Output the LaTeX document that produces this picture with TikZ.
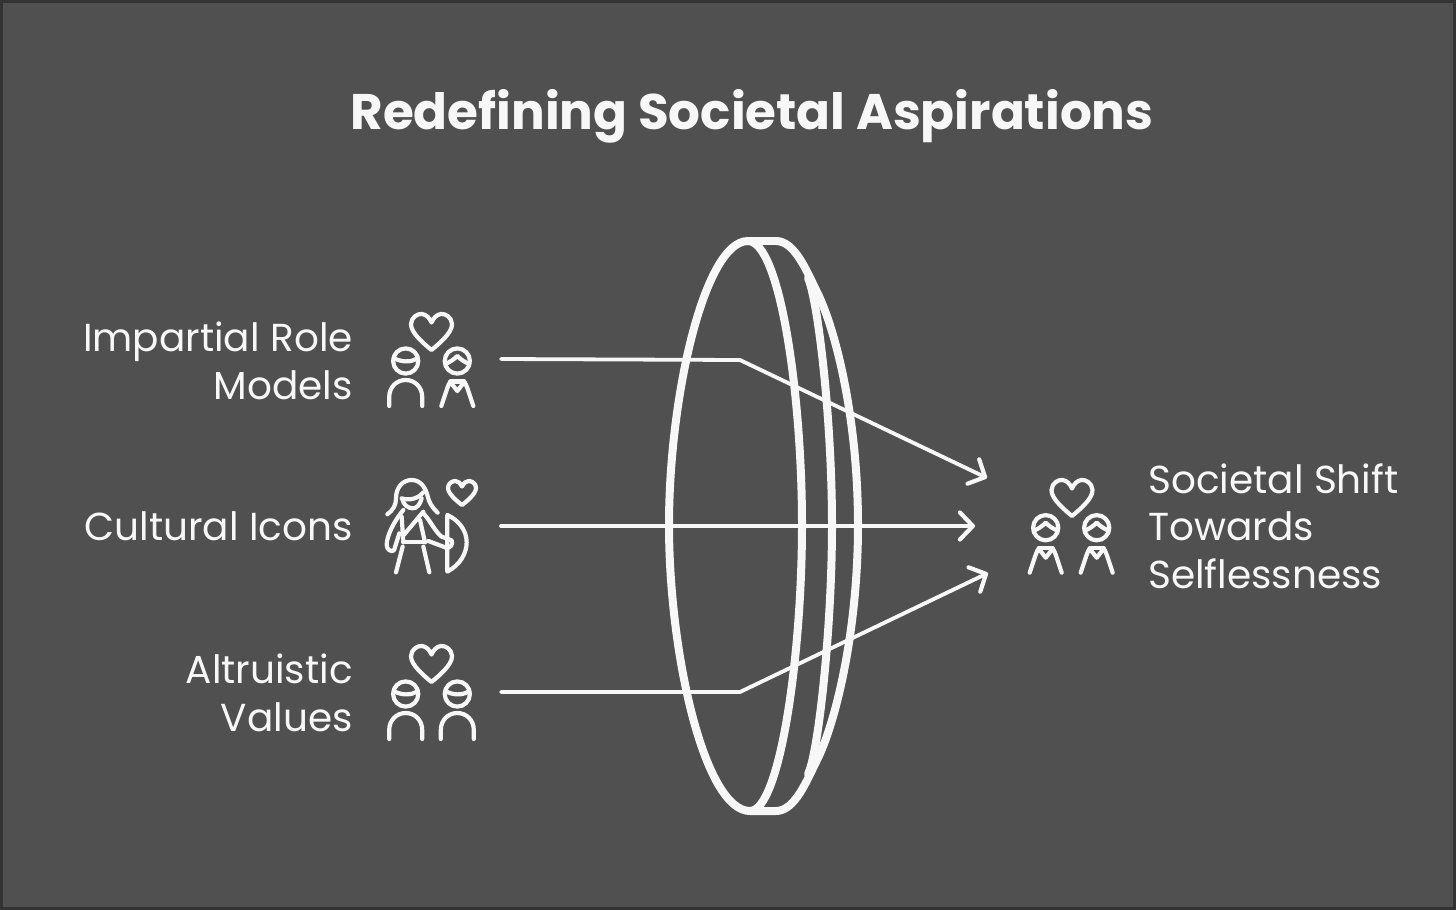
\documentclass[tikz,border=0pt]{standalone}
\usepackage{fontspec}
\setmainfont{Poppins}
\usetikzlibrary{arrows.meta}
\definecolor{bgc}{HTML}{505050}
\definecolor{framec}{HTML}{333333}
\definecolor{inkc}{HTML}{F7F7F7}
\tikzset{
  x=1pt,y=-1pt,
  ico/.style={draw=inkc,line width=4.2pt,line cap=round,line join=round},
  lensline/.style={draw=inkc,line width=8pt,line cap=round,line join=round},
  conn/.style={draw=inkc,line width=3.8pt,line cap=round,line join=round},
  arr/.style={conn,-{Straight Barb[length=13pt,width=27pt,round,line width=4.2pt]}},
  lab/.style={text=inkc,font=\fontsize{39}{47.5}\selectfont,inner sep=0pt},
  heartico/.pic={
    \draw[ico] (0,18) .. controls (-6,13) and (-21,1) .. (-20.5,-8)
      .. controls (-20,-15) and (-14,-18.5) .. (-9.5,-18)
      .. controls (-5,-17.5) and (-2,-14) .. (0,-9.5)
      .. controls (2,-14) and (5,-17.5) .. (9.5,-18)
      .. controls (14,-18.5) and (20,-15) .. (20.5,-8)
      .. controls (21,1) and (6,13) .. (0,18) -- cycle;
  },
  smallheart/.pic={
    \draw[ico] (0,12) .. controls (-4,9) and (-14,1) .. (-14,-5)
      .. controls (-14,-10) and (-9.5,-12) .. (-6.5,-12)
      .. controls (-3.5,-12) and (-1.5,-9.5) .. (0,-6.5)
      .. controls (1.5,-9.5) and (3.5,-12) .. (6.5,-12)
      .. controls (9.5,-12) and (14,-10) .. (14,-5)
      .. controls (14,1) and (4,9) .. (0,12) -- cycle;
  },
  personA/.pic={
    \draw[ico] (0,0) circle[radius=12.6];
    \draw[ico] (-12,-3) .. controls (-5,1) and (5,2) .. (12,-3);
    \draw[ico] (-16.5,45) -- (-16.5,36) .. controls (-16.5,26) and (-9,19) .. (0,19)
      .. controls (9,19) and (16.5,26) .. (16.5,36) -- (16.5,45);
  },
  personB/.pic={
    \draw[ico] (0,0) circle[radius=12.6];
    \draw[ico] (-12,3) .. controls (-7,1) and (-3,-2) .. (0,-5)
      .. controls (3,-2) and (7,1) .. (12,3);
    \draw[ico] (-16,45) -- (-10,27) .. controls (-9,24) and (-8,22) .. (-7,21)
      -- (0,30) -- (7,21) .. controls (8,22) and (9,24) .. (10,27) -- (16,45);
    \draw[ico] (-7,20.5) -- (7,20.5);
  },
}
\begin{document}
\begin{tikzpicture}
\useasboundingbox (0,0) rectangle (1456,910);
\fill[framec] (0,0) rectangle (1456,910);
\fill[bgc] (3,3) rectangle (1453,907);

\node[lab,font=\fontsize{50}{55}\selectfont\bfseries,anchor=base] (title) at (752,129) {Redefining Societal Aspirations};

\node[lab,align=right,anchor=east] (impartial) at (353,361) {Impartial Role\\Models};
\node[lab,anchor=east] (cultural) at (353,526) {Cultural Icons};
\node[lab,align=right,anchor=east] (altruistic) at (353,693) {Altruistic\\Values};
\node[lab,align=left,anchor=west] (shift) at (1148,526) {Societal Shift\\Towards\\Selflessness};

% lens
\draw[lensline] (776,241) -- (748,241);
\draw[lensline] (748,241) .. controls (705,241) and (669,395) .. (669,525)
  .. controls (669,655) and (705,811) .. (750,811) -- (776,811);
\draw[lensline] (748,241) .. controls (780,241) and (802,395) .. (802,525)
  .. controls (802,655) and (780,811) .. (750,811);
\draw[lensline] (776,241) .. controls (795,241) and (807,272) .. (817,292)
  .. controls (836,330) and (858,420) .. (858,525)
  .. controls (858,630) and (836,722) .. (817,760)
  .. controls (807,780) and (795,811) .. (776,811);
\draw[lensline] (808,278) .. controls (818,300) and (832,420) .. (832,525)
  .. controls (832,630) and (818,755) .. (808,774);

% connectors
\coordinate (s1) at (501,359);
\coordinate (k1) at (740,360);
\coordinate (e1) at (987,478);
\coordinate (s2) at (501,526);
\coordinate (e2) at (975,526);
\coordinate (s3) at (501,692);
\coordinate (k3) at (740,692);
\coordinate (e3) at (988,573);
\draw[arr] (s1) -- (k1) -- (e1);
\draw[arr] (s2) -- (e2);
\draw[arr] (s3) -- (k3) -- (e3);

% icons
\pic at (431.5,332) {heartico};
\pic at (405.7,361) {personA};
\pic at (457.3,361) {personB};

\pic at (431.5,664) {heartico};
\pic at (405.7,694) {personA};
\pic at (457.3,694) {personA};

\pic at (1072,498) {heartico};
\pic at (1045.7,527.7) {personB};
\pic at (1096.7,527.7) {personB};

\pic at (462,493) {smallheart};
\begin{scope}[shift={(370,465)},x=0.3333pt,y=-0.3333pt]
  \draw[ico] (52,148) .. controls (70,135) and (78,120) .. (78,100)
    .. controls (78,65) and (100,45) .. (125,45)
    .. controls (150,45) and (165,65) .. (172,90)
    .. controls (178,115) and (185,125) .. (203,143);
  \draw[ico] (95,100) .. controls (120,108) and (145,100) .. (160,82);
  \draw[ico] (97,102) .. controls (100,120) and (115,130) .. (128,130)
    .. controls (140,130) and (150,120) .. (155,100);
  \draw[ico] (100,135) .. controls (75,165) and (50,210) .. (50,240)
    .. controls (50,255) and (65,262) .. (72,256) -- (88,205);
  \draw[ico] (95,155) -- (100,232) (160,140) -- (103,208) (150,165) -- (165,232);
  \draw[ico] (100,232) -- (165,232);
  \draw[ico] (98,245) -- (78,322) (160,245) -- (178,322);
  \draw[ico] (160,145) .. controls (180,165) and (195,200) .. (215,215)
    -- (245,226) .. controls (250,240) and (240,250) .. (228,248)
    -- (175,228);
  \draw[ico] (232,150) -- (232,320)
    .. controls (270,300) and (290,265) .. (290,232)
    .. controls (290,195) and (265,165) .. (232,150) -- cycle;
\end{scope}
\end{tikzpicture}
\end{document}
